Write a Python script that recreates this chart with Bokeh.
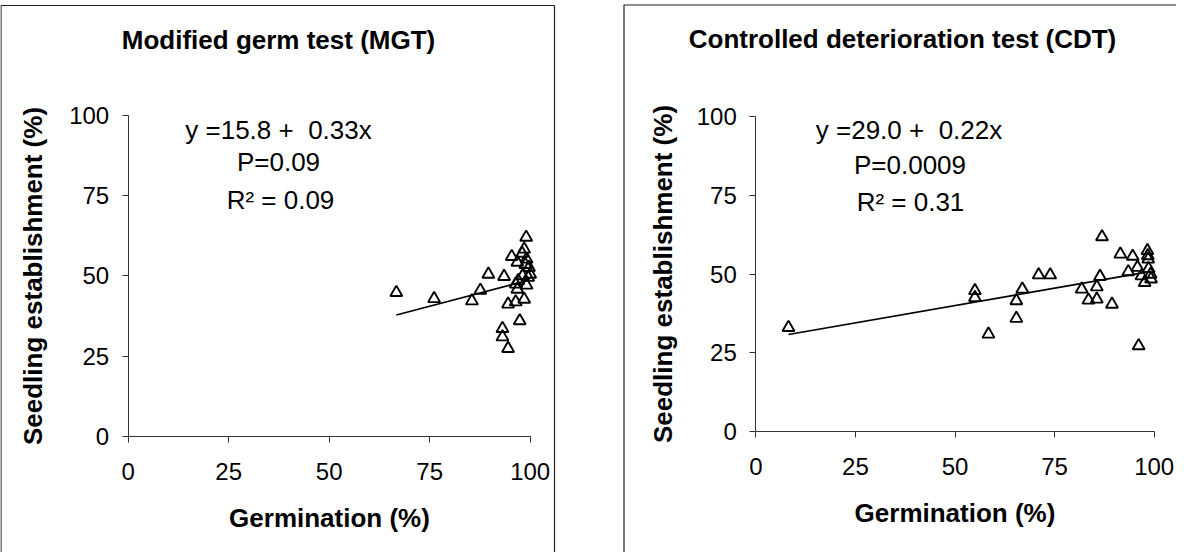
from bokeh.plotting import figure
from bokeh.models import Range1d, LinearAxis, FixedTicker, Label
from bokeh.layouts import row
from bokeh.embed import file_html
from bokeh.resources import INLINE

# ---------------- data ----------------
mgt_germination = [66.7, 76.1, 85.5, 87.6, 89.6, 93.5, 94.5, 93.1, 93.1, 94.5,
                   95.4, 97.4, 99.0, 98.5, 96.4, 98.5, 96.8, 99.1, 96.8, 99.1,
                   99.7, 100.0, 98.1, 96.4, 98.0, 97.0, 99.5, 98.8]
mgt_establishment = [44.8, 42.9, 42.2, 45.5, 50.5, 49.8, 41.2, 33.6, 31.0, 27.4,
                     56.0, 36.0, 62.0, 58.3, 41.9, 42.7, 45.8, 47.1, 54.2, 55.2,
                     52.6, 50.5, 50.0, 47.4, 57.0, 48.5, 49.5, 53.5]

cdt_germination = [8.2, 55.0, 55.0, 58.4, 65.4, 65.4, 66.9, 71.0, 73.9, 81.8,
                   83.5, 85.6, 85.6, 86.4, 86.9, 89.4, 91.5, 93.5, 94.6, 95.8,
                   96.1, 96.8, 97.6, 98.3, 98.4, 98.5, 98.6, 99.1, 99.2]
cdt_establishment = [33.0, 44.7, 42.5, 30.9, 41.5, 35.9, 45.2, 49.7, 49.7, 45.2,
                     41.7, 45.9, 42.0, 49.2, 61.8, 40.4, 56.3, 50.7, 55.6, 52.1,
                     27.2, 49.4, 47.3, 57.4, 55.8, 54.7, 51.7, 49.9, 48.4]

tick_values = [0, 25, 50, 75, 100]
titles = ["Modified germ test (MGT)", "Controlled deterioration test (CDT)"]
equations = ["y =15.8 +\u00a0 0.33x", "y =29.0 +\u00a0 0.22x"]
p_values = ["P=0.09", "P=0.0009"]
r2_values = ["R\u00b2 = 0.09", "R\u00b2 = 0.31"]
intercepts = [15.8, 29.0]
slopes = [0.33, 0.22]
x_label = "Germination (%)"
y_label = "Seedling establishment (%)"

FONT = "Liberation Sans"
H = 552


def make_panel(W, x0px, x100px, y100px, y0px, border, title_pos, text_pos,
               title, xs, ys, b0, b1, eq, pv, r2, ylab_standoff):
    sx = (x100px - x0px) / 100.0
    sy = (y0px - y100px) / 100.0
    x_start = -x0px / sx
    x_end = (W - x0px) / sx
    y_end = 100 + y100px / sy
    y_start = -(H - y0px) / sy

    def dx(cx):
        return x_start + cx / sx

    def dy(cy):
        return y_end - cy / sy

    p = figure(width=W, height=H, x_range=Range1d(x_start, x_end),
               y_range=Range1d(y_start, y_end), output_backend="svg",
               toolbar_location=None, x_axis_type=None, y_axis_type=None,
               min_border=0)
    p.outline_line_color = None
    p.background_fill_color = "white"
    p.border_fill_color = "white"

    # panel border (left, top, right; bottom runs off the page)
    L, T, R = border
    p.line(x=[dx(L), dx(L), dx(R), dx(R)], y=[dy(H + 20), dy(T), dy(T), dy(H + 20)],
           line_color="#222222", line_width=1.2)

    for ax, side in ((LinearAxis(), "below"), (LinearAxis(), "left")):
        ax.fixed_location = 0
        ax.bounds = (0, 100)
        ax.ticker = FixedTicker(ticks=tick_values)
        ax.minor_tick_line_color = None
        ax.major_tick_in = 0
        ax.major_tick_out = 6
        ax.axis_line_color = "#333333"
        ax.major_tick_line_color = "#333333"
        ax.major_label_text_font = FONT
        ax.major_label_text_font_size = "24px"
        ax.major_label_text_color = "black"
        ax.axis_label_text_font = FONT
        ax.axis_label_text_font_size = "26px"
        ax.axis_label_text_font_style = "bold"
        ax.axis_label_text_color = "black"
        if side == "below":
            ax.axis_label = x_label
            ax.major_label_standoff = 20
            ax.axis_label_standoff = 20
        else:
            ax.axis_label = y_label
            ax.major_label_standoff = 13
            ax.axis_label_standoff = ylab_standoff
        p.add_layout(ax, side)

    # trend line from the fitted equation over the observed range
    lx = [min(xs), max(xs)]
    ly = [b0 + b1 * v for v in lx]
    p.line(x=lx, y=ly, line_color="black", line_width=1.7)

    p.scatter(x=xs, y=ys, marker="triangle", size=12, fill_alpha=0,
              line_color="black", line_width=1.9)

    tx, ty = title_pos
    p.add_layout(Label(x=dx(tx), y=dy(ty), text=title, text_font=FONT,
                       text_font_size="26px", text_font_style="bold",
                       text_align="center", text_baseline="middle",
                       text_color="black"))
    for (cx, cy), t in zip(text_pos, (eq, pv, r2)):
        p.add_layout(Label(x=dx(cx), y=dy(cy), text=t, text_font=FONT,
                           text_font_size="26px", text_align="center",
                           text_baseline="middle", text_color="black"))
    return p


p1 = make_panel(592, 127.7, 529.7, 114.7, 436.0,
                (0.5, 5.0, 554.0), (278, 39),
                [(278, 129), (278, 161), (280, 199)],
                titles[0], mgt_germination, mgt_establishment,
                intercepts[0], slopes[0], equations[0], p_values[0], r2_values[0], 18)

p2 = make_panel(584, 163.3, 561.7, 116.0, 431.0,
                (31.5, 4.5, 600.0), (310, 38),
                [(316.5, 129.5), (317.5, 164), (318, 201)],
                titles[1], cdt_germination, cdt_establishment,
                intercepts[1], slopes[1], equations[1], p_values[1], r2_values[1], 15)

layout = row(p1, p2)
open("out.html", "w").write(file_html(layout, INLINE))
